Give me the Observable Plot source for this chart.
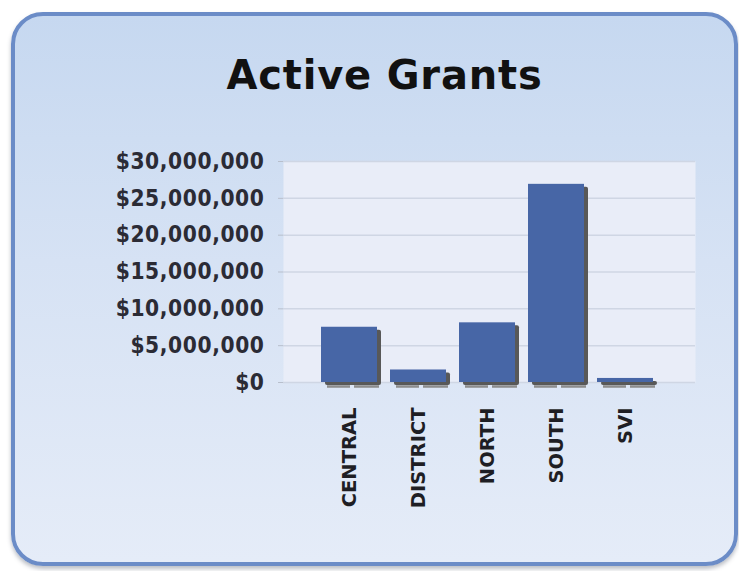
<!DOCTYPE html>
<html>
<head>
<meta charset="utf-8">
<script src="https://cdn.jsdelivr.net/npm/d3@7"></script>
<script src="https://cdn.jsdelivr.net/npm/@observablehq/plot@0.6"></script>
<style>
  html, body { margin: 0; padding: 0; background: #ffffff; width: 739px; height: 571px; overflow: hidden; }
  #card {
    position: absolute; left: 11px; top: 12px; width: 719px; height: 546px;
    border: 4px solid #6b8cc7; border-radius: 32px;
    background: linear-gradient(to bottom, #c6d8f0 0%, #d6e2f4 45%, #e5ecf8 100%);
    box-shadow: 0 3px 4px rgba(60,70,90,0.35);
  }
  #title {
    position: absolute; left: 15px; top: 55px; width: 739px; text-align: center;
    font-family: "DejaVu Sans", sans-serif; font-weight: bold;
    font-size: 40px; line-height: 40px; letter-spacing: 0.8px; color: #111111;
  }
  #chart { position: absolute; left: 0; top: 0; }
  g[aria-label="y-axis tick label"] text { font-stretch: condensed; font-weight: bold; letter-spacing: 0.6px; }
  g[aria-label="x-axis tick label"] text { font-weight: bold; }
</style>
</head>
<body>
<div id="card"></div>
<div id="title">Active Grants</div>
<div id="chart"></div>
<script>
const regions = ["CENTRAL", "DISTRICT", "NORTH", "SOUTH", "SVI"];
const amounts = [7500000, 1700000, 8100000, 26900000, 550000];
const yTicks = [0, 5000000, 10000000, 15000000, 20000000, 25000000, 30000000];

const data = regions.map((r, i) => ({region: r, amount: amounts[i]}));
const fmt = d3.format("$,");

const chart = Plot.plot({
  width: 739,
  height: 571,
  marginLeft: 283,
  marginRight: 44,
  marginTop: 161,
  marginBottom: 189,
  style: {
    background: "transparent",
    fontFamily: "'DejaVu Sans', sans-serif",
    fontWeight: "bold",
    fontSize: "19px",
    color: "#2b2b35",
    overflow: "visible"
  },
  x: {domain: regions, insetLeft: 38, insetRight: 42, paddingInner: 0.19, paddingOuter: 0, label: null},
  y: {domain: [0, 30000000], ticks: yTicks, label: null},
  marks: [
    Plot.frame({fill: "#e9edf8", stroke: null}),
    Plot.gridY(yTicks, {stroke: "#cfd6e4", strokeOpacity: 1, strokeWidth: 1.5}),
    Plot.ruleX([0], {frameAnchor: "left", stroke: "#d0d5e0"}),
    Plot.axisY({ticks: yTicks, tickFormat: fmt, tickSize: 5, tickPadding: 14, stroke: "#b8bfcc", fontSize: 22.5, fill: "#2b2b35"}),
    Plot.axisX({tickRotate: -90, tickSize: 0, tickPadding: 25, fontSize: 19.5, fill: "#1e1e24"}),
    Plot.barY(data, {x: "region", y: "amount", fill: "#585858", dx: 4, dy: 3, rx: 2}),
    Plot.tickY(data, {x: "region", y: 0, dy: 4, dx: 2, stroke: "#8c8c8c", strokeWidth: 2.5, strokeDasharray: "0 4 23 4 28"}),
    Plot.barY(data, {x: "region", y: "amount", fill: "#4766a6"})
  ]
});
document.getElementById("chart").appendChild(chart);
</script>
</body>
</html>
